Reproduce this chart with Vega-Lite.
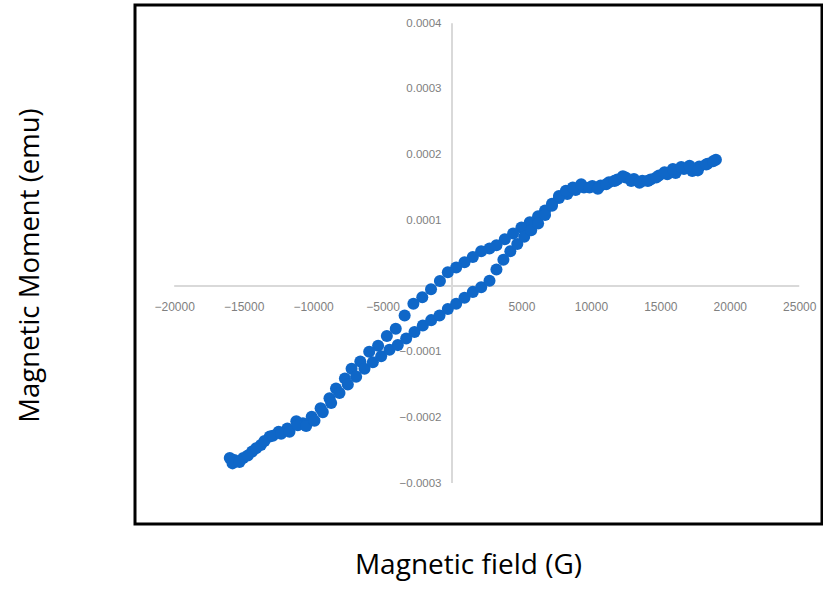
{
  "$schema": "https://vega.github.io/schema/vega-lite/v6.json",
  "width": 687,
  "height": 519,
  "autosize": {"type": "none"},
  "padding": {"left": 135, "top": 5, "right": 1, "bottom": 82},
  "background": "white",
  "config": {"view": {"stroke": "black", "strokeWidth": 3}},
  "datasets": {
    "axes": [
      {"x1": -20000, "x2": 25000, "y1": 0, "y2": 0},
      {"x1": 0, "x2": 0, "y1": -0.0003, "y2": 0.0004}
    ],
    "pts": [
      {"field": 19000, "moment": 0.000192},
      {"field": 18400, "moment": 0.000186},
      {"field": 17800, "moment": 0.000182},
      {"field": 17300, "moment": 0.000175},
      {"field": 16700, "moment": 0.000178},
      {"field": 16100, "moment": 0.000172},
      {"field": 15500, "moment": 0.00017},
      {"field": 14900, "moment": 0.000168},
      {"field": 14300, "moment": 0.000162},
      {"field": 13700, "moment": 0.00016},
      {"field": 13100, "moment": 0.000163},
      {"field": 12500, "moment": 0.000165},
      {"field": 11900, "moment": 0.000162},
      {"field": 11300, "moment": 0.000158},
      {"field": 10700, "moment": 0.000153},
      {"field": 10100, "moment": 0.000152},
      {"field": 9500, "moment": 0.00015},
      {"field": 8900, "moment": 0.000146},
      {"field": 8300, "moment": 0.00014},
      {"field": 7700, "moment": 0.000134},
      {"field": 7200, "moment": 0.000125},
      {"field": 6700, "moment": 0.000115},
      {"field": 6200, "moment": 0.000106},
      {"field": 5600, "moment": 0.000097},
      {"field": 5000, "moment": 0.000089},
      {"field": 4400, "moment": 0.00008},
      {"field": 3800, "moment": 0.000071},
      {"field": 3200, "moment": 0.000062},
      {"field": 2700, "moment": 0.000057},
      {"field": 2100, "moment": 0.000053},
      {"field": 1500, "moment": 0.000044},
      {"field": 900, "moment": 0.000036},
      {"field": 300, "moment": 0.000028},
      {"field": -300, "moment": 0.000021},
      {"field": -870, "moment": 0.0000076},
      {"field": -1510, "moment": -0.000005},
      {"field": -2140, "moment": -0.000017},
      {"field": -2780, "moment": -0.000027},
      {"field": -3410, "moment": -0.000045},
      {"field": -4050, "moment": -0.000065},
      {"field": -4690, "moment": -0.000076},
      {"field": -5320, "moment": -0.000091},
      {"field": -5960, "moment": -0.0001},
      {"field": -6600, "moment": -0.000115},
      {"field": -7230, "moment": -0.000126},
      {"field": -7710, "moment": -0.000141},
      {"field": -8350, "moment": -0.000156},
      {"field": -8820, "moment": -0.000171},
      {"field": -9460, "moment": -0.000186},
      {"field": -10100, "moment": -0.000199},
      {"field": -10730, "moment": -0.000209},
      {"field": -11210, "moment": -0.000206},
      {"field": -11850, "moment": -0.000217},
      {"field": -12480, "moment": -0.000222},
      {"field": -13120, "moment": -0.000229},
      {"field": -13760, "moment": -0.000242},
      {"field": -14390, "moment": -0.000252},
      {"field": -15030, "moment": -0.000262},
      {"field": -15670, "moment": -0.000265},
      {"field": -16000, "moment": -0.000262},
      {"field": -15800, "moment": -0.00027},
      {"field": -15300, "moment": -0.000268},
      {"field": -14700, "moment": -0.000258},
      {"field": -14100, "moment": -0.000247},
      {"field": -13500, "moment": -0.000236},
      {"field": -12900, "moment": -0.000228},
      {"field": -12300, "moment": -0.000225},
      {"field": -11700, "moment": -0.000222},
      {"field": -11100, "moment": -0.000212},
      {"field": -10500, "moment": -0.000213},
      {"field": -9900, "moment": -0.000205},
      {"field": -9300, "moment": -0.000192},
      {"field": -8700, "moment": -0.000178},
      {"field": -8100, "moment": -0.000163},
      {"field": -7500, "moment": -0.00015},
      {"field": -6900, "moment": -0.000138},
      {"field": -6300, "moment": -0.000126},
      {"field": -5700, "moment": -0.000116},
      {"field": -5100, "moment": -0.000107},
      {"field": -4500, "moment": -0.000097},
      {"field": -3900, "moment": -0.00009},
      {"field": -3300, "moment": -0.00008},
      {"field": -2700, "moment": -0.00007},
      {"field": -2100, "moment": -0.00006},
      {"field": -1500, "moment": -0.000052},
      {"field": -900, "moment": -0.000045},
      {"field": -300, "moment": -0.000035},
      {"field": 300, "moment": -0.000027},
      {"field": 900, "moment": -0.000018},
      {"field": 1500, "moment": -0.000009},
      {"field": 2100, "moment": -0.000002},
      {"field": 2700, "moment": 0.000008},
      {"field": 3200, "moment": 0.000025},
      {"field": 3700, "moment": 0.00004},
      {"field": 4200, "moment": 0.000053},
      {"field": 4700, "moment": 0.000064},
      {"field": 5200, "moment": 0.000075},
      {"field": 5700, "moment": 0.000085},
      {"field": 6200, "moment": 0.000095},
      {"field": 6700, "moment": 0.000108},
      {"field": 7200, "moment": 0.000122},
      {"field": 7700, "moment": 0.000137},
      {"field": 8200, "moment": 0.000145},
      {"field": 8700, "moment": 0.00015},
      {"field": 9300, "moment": 0.000155},
      {"field": 9900, "moment": 0.00015},
      {"field": 10500, "moment": 0.000148},
      {"field": 11100, "moment": 0.000155},
      {"field": 11700, "moment": 0.00016},
      {"field": 12300, "moment": 0.000167},
      {"field": 12900, "moment": 0.00016},
      {"field": 13500, "moment": 0.000157},
      {"field": 14100, "moment": 0.00016},
      {"field": 14700, "moment": 0.000165},
      {"field": 15300, "moment": 0.000173},
      {"field": 15900, "moment": 0.000178},
      {"field": 16500, "moment": 0.000181},
      {"field": 17100, "moment": 0.000183},
      {"field": 17700, "moment": 0.000176},
      {"field": 18300, "moment": 0.000185},
      {"field": 18800, "moment": 0.00019}
    ]
  },
  "layer": [
    {
      "data": {"name": "axes"},
      "mark": {"type": "rule", "color": "#d9d9d9", "strokeWidth": 2},
      "encoding": {
        "x": {"field": "x1", "type": "quantitative"},
        "x2": {"field": "x2"},
        "y": {"field": "y1", "type": "quantitative"},
        "y2": {"field": "y2"}
      }
    },
    {
      "data": {"name": "pts"},
      "mark": {"type": "point", "shape": "circle", "filled": true, "size": 145, "color": "#0f67c8", "opacity": 1},
      "encoding": {
        "x": {
          "field": "field",
          "type": "quantitative",
          "scale": {"domain": [-22822, 26638], "nice": false, "zero": false},
          "axis": {
            "orient": "bottom",
            "offset": -238,
            "domain": false,
            "ticks": false,
            "grid": false,
            "values": [-20000, -15000, -10000, -5000, 0, 5000, 10000, 15000, 20000, 25000],
            "format": "d",
            "labelExpr": "datum.value == 0 ? '' : datum.label",
            "labelFont": "Liberation Sans",
            "labelFontSize": 12,
            "labelColor": "#808080",
            "labelPadding": 15,
            "title": "Magnetic field (G)",
            "titleFont": "Open Sans",
            "titleFontSize": 28,
            "titleFontWeight": "normal",
            "titleColor": "#000000",
            "titleX": 333,
            "titleY": 279,
            "titleAlign": "center",
            "titleBaseline": "middle"
          }
        },
        "y": {
          "field": "moment",
          "type": "quantitative",
          "scale": {"domain": [-0.0003623, 0.0004277], "nice": false, "zero": false},
          "axis": {
            "orient": "left",
            "offset": -317,
            "domain": false,
            "ticks": false,
            "grid": false,
            "values": [-0.0003, -0.0002, -0.0001, 0, 0.0001, 0.0002, 0.0003, 0.0004],
            "format": ".4f",
            "labelExpr": "datum.value == 0 ? '' : datum.label",
            "labelFont": "Liberation Sans",
            "labelFontSize": 11.5,
            "labelColor": "#808080",
            "labelPadding": 11,
            "title": "Magnetic Moment (emu)",
            "titleFont": "Open Sans",
            "titleFontSize": 27.5,
            "titleFontWeight": "normal",
            "titleColor": "#000000",
            "titleAngle": -90,
            "titleX": -422,
            "titleY": 260,
            "titleAlign": "center",
            "titleBaseline": "middle"
          }
        }
      }
    }
  ]
}
